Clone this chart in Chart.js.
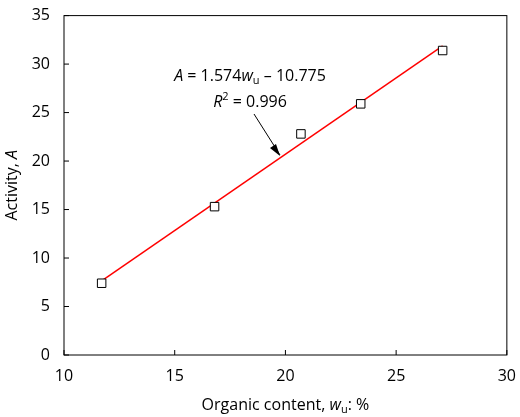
<!DOCTYPE html>
<html><head><meta charset="utf-8">
<script src="https://cdn.jsdelivr.net/npm/chart.js@4"></script>
<style>html,body{margin:0;padding:0;background:#fff}#w{width:520px;height:417px}</style>
</head><body><div id="w"><canvas id="c"></canvas></div>
<script>
const organic = [11.7, 16.8, 20.7, 23.4, 27.1];
const activity = [7.4, 15.3, 22.8, 25.9, 31.4];
const slope = 1.574, intercept = -10.775;
const fitX = [11.7, 27.1];
const xTicks = [10, 15, 20, 25, 30];
const yTicks = [0, 5, 10, 15, 20, 25, 30, 35];
const FONT = '"Open Sans", sans-serif';

function segs(ctx, parts, x, y, align) {
  let total = 0;
  parts.forEach(p => { ctx.font = p.f; total += ctx.measureText(p.t).width; });
  let cx = align === 'center' ? x - total / 2 : x;
  parts.forEach(p => {
    ctx.font = p.f; ctx.fillText(p.t, cx, y + (p.dy || 0)); cx += ctx.measureText(p.t).width;
  });
}
const R = '16px ' + FONT, I = 'italic 16px ' + FONT, S = '11px ' + FONT;

const deco = {
  id: 'deco',
  afterDraw(chart) {
    const ctx = chart.ctx, a = chart.chartArea, xs = chart.scales.x, ys = chart.scales.y;
    ctx.save();
    ctx.strokeStyle = '#000'; ctx.lineWidth = 1;
    ctx.strokeRect(a.left, a.top, a.right - a.left, a.bottom - a.top);
    ctx.beginPath();
    xTicks.forEach(v => { const p = xs.getPixelForValue(v); ctx.moveTo(p, a.bottom); ctx.lineTo(p, a.bottom - 5); });
    yTicks.forEach(v => { const p = ys.getPixelForValue(v); ctx.moveTo(a.left, p); ctx.lineTo(a.left + 5, p); });
    ctx.stroke();
    ctx.fillStyle = '#000'; ctx.textBaseline = 'alphabetic';
    segs(ctx, [{t:'Organic content, ',f:R},{t:'w',f:I},{t:'u',f:S,dy:3},{t:': %',f:R}], (a.left + a.right) / 2, 410, 'center');
    ctx.save(); ctx.translate(17, (a.top + a.bottom) / 2); ctx.rotate(-Math.PI / 2);
    segs(ctx, [{t:'Activity, ',f:R},{t:'A',f:I}], 0, 0, 'center'); ctx.restore();
    segs(ctx, [{t:'A',f:I},{t:' = 1.574',f:R},{t:'w',f:I},{t:'u',f:S,dy:3},{t:' \u2013 10.775',f:R}], 250, 81, 'center');
    segs(ctx, [{t:'R',f:I},{t:'2',f:S,dy:-7},{t:' = 0.996',f:R}], 250, 107, 'center');
    ctx.beginPath(); ctx.moveTo(254, 114); ctx.lineTo(280, 155); ctx.stroke();
    ctx.beginPath(); ctx.moveTo(280, 156); ctx.lineTo(270, 148); ctx.lineTo(276, 144); ctx.closePath(); ctx.fill();
    ctx.restore();
  }
};

new Chart(document.getElementById('c'), {
  type: 'scatter',
  data: { datasets: [
    { data: fitX.map(x => ({x, y: slope * x + intercept})), showLine: true, borderColor: '#ff0000', borderWidth: 1.5, pointRadius: 0, order: 2 },
    { data: organic.map((x, i) => ({x, y: activity[i]})), pointStyle: 'rect', pointRadius: 6, pointBackgroundColor: '#fff', pointBorderColor: '#000', pointBorderWidth: 1, order: 1 }
  ]},
  options: {
    responsive: true, maintainAspectRatio: false, animation: false,
    layout: { padding: { top: 11, right: 9, left: 0, bottom: 0 } },
    plugins: { legend: { display: false }, tooltip: { enabled: false } },
    scales: {
      x: { min: 10, max: 30, afterFit: s => { s.height = 62; },
        afterBuildTicks: s => { s.ticks = xTicks.map(v => ({value: v})); },
        grid: { display: false }, border: { display: false },
        ticks: { color: '#000', font: { family: FONT, size: 16 }, padding: 4 } },
      y: { min: 0, max: 35, afterFit: s => { s.width = 64; },
        afterBuildTicks: s => { s.ticks = yTicks.map(v => ({value: v})); },
        grid: { display: false }, border: { display: false },
        ticks: { color: '#000', font: { family: FONT, size: 16 }, padding: 6 } }
    }
  },
  plugins: [deco]
});
</script></body></html>
